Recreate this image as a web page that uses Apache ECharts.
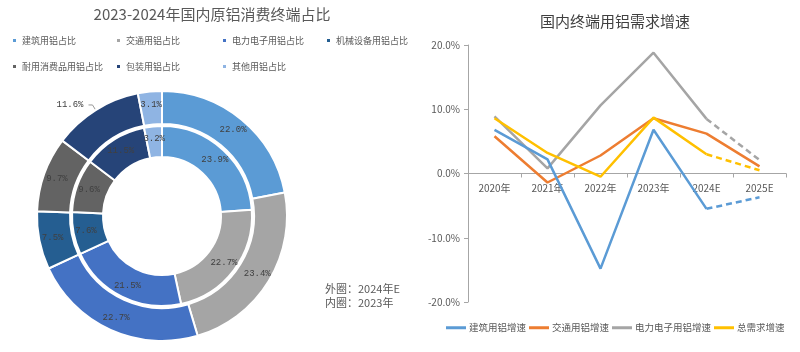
<!DOCTYPE html>
<html><head><meta charset="utf-8">
<script src="https://cdn.jsdelivr.net/npm/echarts@6/dist/echarts.min.js"></script>
<style>html,body{margin:0;padding:0;background:#fff}#c{width:800px;height:352px}</style>
</head><body><div id="c"></div>
<script>
var pieNames = ['建筑用铝占比','交通用铝占比','电力电子用铝占比','机械设备用铝占比','耐用消费品用铝占比','包装用铝占比','其他用铝占比'];
var outer2024 = [22.0, 23.4, 22.7, 7.5, 9.7, 11.6, 3.1];
var inner2023 = [23.9, 22.7, 21.5, 7.6, 9.6, 11.5, 3.2];
var pieColors = ['#5B9BD5','#A5A5A5','#4472C4','#255E91','#636363','#264478','#8FB4E3'];

var years = ['2020年','2021年','2022年','2023年','2024E','2025E'];
var lineNames = ['建筑用铝增速','交通用铝增速','电力电子用铝增速','总需求增速'];
var building = [6.8, 2.2, -14.8, 6.8, -5.5, -3.7];
var transport = [5.8, -1.4, 2.8, 8.6, 6.2, 1.1];
var electric = [8.9, 0.8, 10.6, 18.8, 8.5, 2.1];
var total = [8.6, 3.2, -0.5, 8.7, 3.0, 0.5];
var lineColors = ['#5B9BD5','#ED7D31','#A5A5A5','#FFC000'];
var lineValues = [building, transport, electric, total];
var dashLast = [true, false, true, true];
// labelled points: [seriesIndex, categoryIndex]
var labelled = [[2,3],[2,4],[3,4],[0,4]];

var chart = echarts.init(document.getElementById('c'));
var font = 'Noto Sans CJK SC';

function pieData(vals){
  return vals.map(function(v,i){
    return {name: pieNames[i], value: v, itemStyle:{color: pieColors[i]}};
  });
}
var outerData = pieData(outer2024);
outerData[5].label = {position:'outside', distance: 12};
outerData[5].labelLine = {show:true, length:6, length2:4, lineStyle:{color:'#999'}};

var legends = [];
var legendPos = [[6,31],[110,31],[216,31],[320,31],[6,57],[110,57],[216,57]];
pieNames.forEach(function(n,i){
  legends.push({data:[n], left: legendPos[i][0], top: legendPos[i][1], icon:'rect', itemWidth:5, itemHeight:5, itemGap:4,
    textStyle:{fontSize:9, color:'#595959', fontFamily: font}, selectedMode:false});
});
legends.push({data: lineNames, left: 441, top: 318, width: 360, icon:'rect', itemWidth:20, itemHeight:3, itemGap:3,
  textStyle:{fontSize:9.5, color:'#595959', fontFamily: font, padding:[0,0,0,-2]}, selectedMode:false});

var pieLabel = {show:true, position:'inside', fontSize:9, color:'#404040', fontFamily:'Liberation Mono',
  formatter: function(p){ return p.value.toFixed(1)+'%'; }};

var series = [
  {type:'pie', name:'外圈', center:[162,216], radius:[92,125], startAngle:90, clockwise:true, data: outerData,
   itemStyle:{borderColor:'#fff', borderWidth:2}, label: pieLabel, labelLine:{show:false}, silent:true},
  {type:'pie', name:'内圈', center:[162,216], radius:[59,90], startAngle:90, clockwise:true, data: pieData(inner2023),
   itemStyle:{borderColor:'#fff', borderWidth:2}, label: pieLabel, labelLine:{show:false}, silent:true}
];

lineNames.forEach(function(n,si){
  var vals = lineValues[si];
  var solid = vals.map(function(v,i){
    var d = {value: (dashLast[si] && i===5) ? null : v};
    labelled.forEach(function(l){
      if(l[0]===si && l[1]===i){ d.label = {show:true, position:'right', distance:6, fontSize:10, color:'#404040', fontFamily:font,
        formatter: v.toFixed(1)+'%'}; }
    });
    return d;
  });
  series.push({type:'line', name:n, data: solid, symbol:'none', showSymbol:true, symbolSize:0,
    lineStyle:{width:2.5, color: lineColors[si]}, itemStyle:{color: lineColors[si]}, z: si===0?5:3, silent:true});
  if(dashLast[si]){
    series.push({type:'line', name:n+'预测', data: vals.map(function(v,i){ return i>=4 ? v : null; }), symbol:'none',
      lineStyle:{width:2.5, color: lineColors[si], type:[6,4]}, itemStyle:{color: lineColors[si]}, silent:true});
  }
});

var gridTop = 45, gridBottom = 50, chartH = 352;
var zeroOffset = -((chartH - gridTop - gridBottom) / 2);

chart.setOption({
  animation:false,
  backgroundColor:'#fff',
  title:[
    {text:'2023-2024年国内原铝消费终端占比', left:207, top:2, textAlign:'center',
     textStyle:{fontSize:15, fontWeight:'normal', color:'#595959', fontFamily: font}},
    {text:'国内终端用铝需求增速', left:610, top:9, textAlign:'center',
     textStyle:{fontSize:15, fontWeight:'normal', color:'#404040', fontFamily: font}},
    {text:'外圈：2024年E\n内圈：2023年', left:320, top:277,
     textStyle:{fontSize:11, fontWeight:'normal', color:'#595959', fontFamily: font, lineHeight:14}}
  ],
  legend: legends,
  grid:{left:468, right:14, top:gridTop, bottom:gridBottom},
  xAxis:{type:'category', data: years, boundaryGap:true, position:'bottom', offset: zeroOffset,
    axisLine:{show:true, onZero:false, lineStyle:{color:'#a6a6a6', width:1}},
    axisTick:{show:true, alignWithLabel:false, length:4, lineStyle:{color:'#a6a6a6'}},
    axisLabel:{fontSize:10, color:'#595959', fontFamily: font, margin:10}},
  yAxis:{type:'value', min:-20, max:20, interval:10,
    axisLine:{show:true, lineStyle:{color:'#a6a6a6'}},
    axisTick:{show:true, length:4, lineStyle:{color:'#a6a6a6'}},
    splitLine:{show:false},
    axisLabel:{fontSize:10, color:'#595959', fontFamily: font, formatter: function(v){ return v.toFixed(1)+'%'; }}},
  series: series
});
</script></body></html>
